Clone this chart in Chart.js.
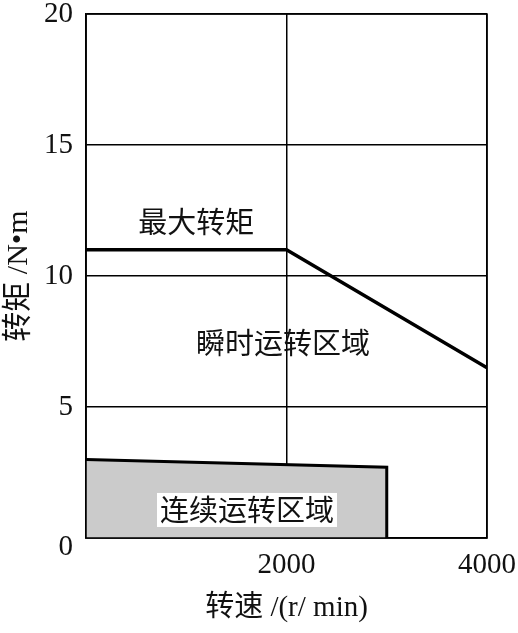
<!DOCTYPE html>
<html><head><meta charset="utf-8">
<script src="https://cdn.jsdelivr.net/npm/chart.js@4/dist/chart.umd.min.js"></script>
<style>html,body{margin:0;padding:0;background:#fff}#wrap{width:518px;height:633px}</style>
</head><body><div id="wrap"><canvas id="c"></canvas></div>
<script>
const speedMax = [0, 2000, 4000];
const torqueMax = [11, 11, 6.5];
const speedCont = [0, 3000, 3000];
const torqueCont = [3.0, 2.7, 0];
const xTicks = [0, 2000, 4000];
const yTicks = [0, 5, 10, 15, 20];
const xTitle = '转速 /(r/ min)';
const yTitle = '转矩 /N•m';
const annotations = [
  {text: '最大转矩', x: 1100, y: 12.05, box: false},
  {text: '瞬时运转区域', x: 1965, y: 7.44, box: false},
  {text: '连续运转区域', x: 1606, y: 1.07, box: true}
];
const CJK = '"Noto Sans CJK SC", sans-serif';
const MIX = '"Liberation Serif", "Noto Sans CJK SC", serif';
const NUM = '"Liberation Serif", "DejaVu Serif", serif';

const toPts = (xs, ys) => xs.map((x, i) => ({x, y: ys[i]}));
const noPad = s => { s.paddingTop = 0; s.paddingBottom = 0; s.paddingLeft = 0; s.paddingRight = 0; };

const labelPlugin = {
  id: 'labels',
  afterDraw(chart) {
    const {ctx, chartArea: a, scales: {x, y}} = chart;
    ctx.save();
    ctx.strokeStyle = '#000'; ctx.lineWidth = 1.5;
    ctx.strokeRect(a.left, a.top, a.right - a.left, a.bottom - a.top);
    ctx.font = '29px ' + CJK;
    ctx.textAlign = 'center'; ctx.textBaseline = 'middle';
    annotations.forEach(an => {
      const px = x.getPixelForValue(an.x), py = y.getPixelForValue(an.y);
      const w = ctx.measureText(an.text).width;
      if (an.box) { ctx.fillStyle = '#fff'; ctx.fillRect(px - w/2 - 3, py - 17, w + 6, 34); }
      ctx.fillStyle = '#111';
      ctx.fillText(an.text, px, py);
    });
    ctx.restore();
  }
};

new Chart(document.getElementById('c'), {
  type: 'scatter',
  data: {datasets: [
    {data: toPts(speedCont, torqueCont), showLine: true, borderColor: '#000', borderWidth: 3,
     backgroundColor: '#cbcbcb', fill: 'origin', pointRadius: 0, tension: 0, order: 2},
    {data: toPts(speedMax, torqueMax), showLine: true, borderColor: '#000', borderWidth: 3.5,
     fill: false, pointRadius: 0, tension: 0, order: 1}
  ]},
  options: {
    responsive: true, maintainAspectRatio: false, animation: false,
    layout: {padding: {top: 14, right: 31, left: 0, bottom: 0}},
    plugins: {legend: {display: false}, tooltip: {enabled: false}},
    scales: {
      x: {type: 'linear', min: 0, max: 4000, z: 1,
        afterBuildTicks: s => { s.ticks = xTicks.map(v => ({value: v})); },
        afterFit: s => { s.height = 95; noPad(s); },
        grid: {color: '#000', lineWidth: 1.5, drawTicks: false},
        border: {display: true, color: '#000', width: 1.5},
        ticks: {padding: 10, maxRotation: 0, color: '#111', font: {family: NUM, size: 29},
          callback: v => v === 0 ? '' : String(v)},
        title: {display: true, text: xTitle, color: '#111', font: {family: MIX, size: 29}, padding: {top: 4, bottom: 7}}
      },
      y: {type: 'linear', min: 0, max: 20, z: 1,
        afterBuildTicks: s => { s.ticks = yTicks.map(v => ({value: v})); },
        afterFit: s => { s.width = 86; noPad(s); },
        grid: {color: '#000', lineWidth: 1.5, drawTicks: false},
        border: {display: true, color: '#000', width: 1.5},
        ticks: {padding: 13, color: '#111',
          font: c => ({family: NUM, size: 29, lineHeight: (c.tick && c.tick.value === 0) ? 0.62 : 1.2}),
          callback: v => v === 0 ? ['', '0'] : String(v)},
        title: {display: true, text: yTitle, color: '#111', font: {family: MIX, size: 30}, padding: {top: 1, bottom: 4}}
      }
    }
  },
  plugins: [labelPlugin]
});
</script></body></html>
